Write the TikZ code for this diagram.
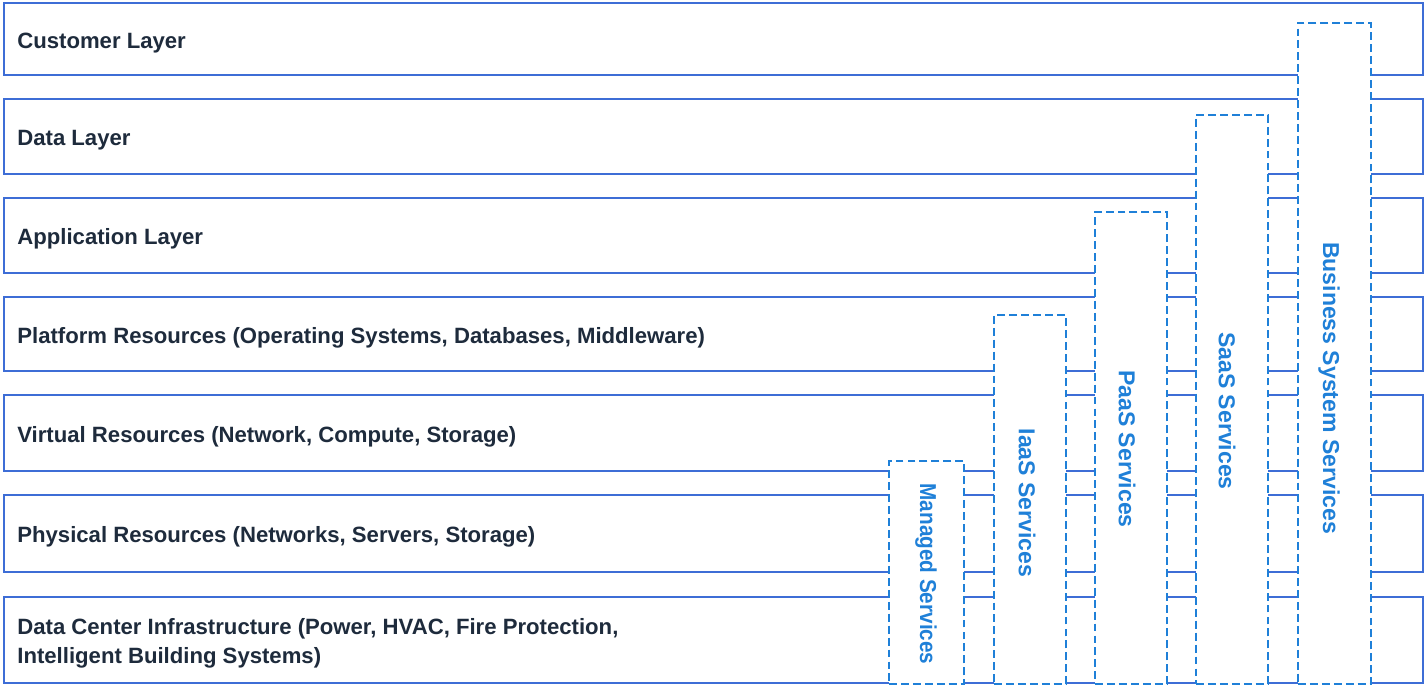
\documentclass[tikz,border=0pt]{standalone}
\usepackage{fontspec}
\setmainfont{Liberation Sans}
\definecolor{layerblue}{HTML}{3D6DD6}
\definecolor{svcblue}{HTML}{1F80D8}
\definecolor{navy}{HTML}{1E2B3C}

\begin{document}
\begin{tikzpicture}[x=0.02cm,y=-0.02cm]
        \tikzstyle{layer}=[rectangle,draw=layerblue,line width=1pt,fill=white,anchor=north west,minimum width=28.38cm,inner sep=0pt]
        \tikzstyle{layertxt}=[anchor=west,inner sep=0pt,align=left,text=navy,font=\fontsize{12.6}{16.5}\selectfont\bfseries,xshift=0.28cm,yshift=-0.075cm]
        \tikzstyle{svcbox}=[rectangle,draw=svcblue,line width=1.1pt,dash pattern=on 4.5pt off 2.3pt,fill=white,anchor=north west,minimum width=1.44cm,inner sep=0pt]
        \tikzstyle{svctext}=[rotate=-90,text=svcblue,inner sep=0pt,font=\fontsize{13.1}{15}\selectfont\bfseries]
        \useasboundingbox (0,0) rectangle (1425,686);
        % layers, top to bottom
        \node[layer,minimum height=1.44cm] (cust) at (3,2) {};
        \node[layer,minimum height=1.5cm] (data) at (3,98) {};
        \node[layer,minimum height=1.5cm] (app) at (3,197) {};
        \node[layer,minimum height=1.48cm] (plat) at (3,296) {};
        \node[layer,minimum height=1.52cm] (virt) at (3,394) {};
        \node[layer,minimum height=1.54cm] (phys) at (3,494) {};
        \node[layer,minimum height=1.72cm] (dc) at (3,596) {};
        \node[layertxt] (custtxt) at (cust.west) {Customer Layer};
        \node[layertxt] (datatxt) at (data.west) {Data Layer};
        \node[layertxt] (apptxt) at (app.west) {Application Layer};
        \node[layertxt] (plattxt) at (plat.west) {Platform Resources (Operating Systems, Databases, Middleware)};
        \node[layertxt] (virttxt) at (virt.west) {Virtual Resources (Network, Compute, Storage)};
        \node[layertxt] (phystxt) at (phys.west) {Physical Resources (Networks, Servers, Storage)};
        \node[layertxt] (dctxt) at (dc.west) {Data Center Infrastructure (Power, HVAC, Fire Protection,\\Intelligent Building Systems)};
        % service columns
        \node[svcbox,minimum width=1.5cm,minimum height=4.46cm] (managed) at (888,460) {};
        \node[svcbox,minimum height=7.38cm] (iaas) at (993,314) {};
        \node[svcbox,minimum height=9.44cm] (paas) at (1094,211) {};
        \node[svcbox,minimum height=11.38cm] (saas) at (1195,114) {};
        \node[svcbox,minimum width=1.46cm,minimum height=13.22cm] (bss) at (1297,22) {};
        \node[svctext] (managedtxt) at (926,574) {\scalebox{0.9}[1]{Managed Services}};
        \node[svctext] (iaastxt) at (1027,503) {IaaS Services};
        \node[svctext] (paastxt) at (1127,449) {PaaS Services};
        \node[svctext] (saastxt) at (1227,411) {SaaS Services};
        \node[svctext] (bsstxt) at (1329,388) {Business System Services};
\end{tikzpicture}
\end{document}
